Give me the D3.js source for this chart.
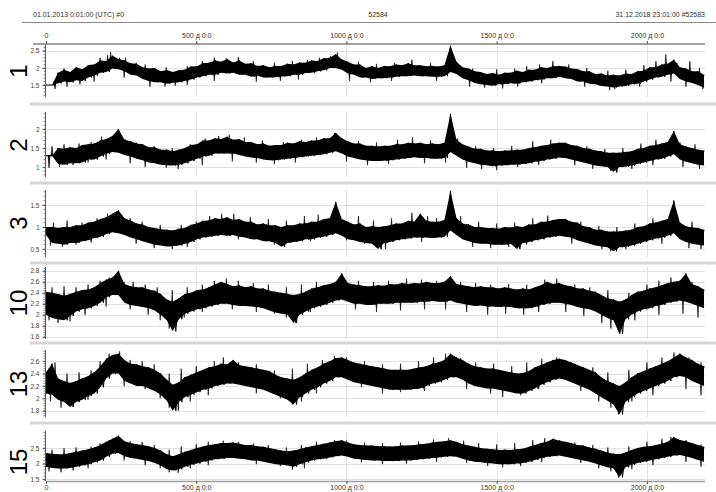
<!DOCTYPE html>
<html><head><meta charset="utf-8">
<script src="https://cdn.jsdelivr.net/npm/d3@7"></script>
<style>body{margin:0;background:#fff}svg{display:block}text{font-family:"Liberation Sans",Arial,sans-serif}</style>
</head><body><svg id="c" width="716" height="492"></svg>
<script>
// ---------- DATA ----------
const headerLeft = "01.01.2013 0:01:00 (UTC)  #0";
const headerMid = "52584";
const headerRight = "31.12.2018 23:01:00  #52583";
const totalDays = 2190;
const xTickValues = [0, 500, 1000, 1500, 2000];
const xTickLabels = ["0", "500 д 0:0", "1000 д 0:0", "1500 д 0:0", "2000 д 0:0"];
const panelNames = ["1", "2", "3", "10", "13", "15"];

const yTicks1 = [1.5, 2, 2.5];
const yTicks2 = [1, 1.5, 2];
const yTicks3 = [0.5, 1, 1.5];
const yTicks10 = [1.6, 1.8, 2, 2.2, 2.4, 2.6, 2.8];
const yTicks13 = [1.8, 2, 2.2, 2.4, 2.6];
const yTicks15 = [1.5, 2, 2.5];

// per 20-day bin: upper / lower edge of the dense band
const p1Max = [1.5,1.5,1.86,1.95,1.88,2.02,1.96,2.08,2.1,2.22,
 2.2,2.36,2.26,2.22,2.14,2.12,2.02,1.98,2.0,1.9,
 1.94,1.88,1.93,1.95,2.04,2.05,2.14,2.15,2.22,2.18,
 2.26,2.16,2.22,2.12,2.14,2.06,2.08,2.02,2.06,2.06,
 2.12,2.1,2.16,2.15,2.22,2.2,2.28,2.3,2.4,2.25,
 2.18,2.1,2.1,2.0,2.05,2.0,2.06,2.05,2.1,2.08,
 2.14,2.08,2.08,2.05,2.06,2.04,2.08,2.65,2.18,2.02,
 1.98,1.9,1.88,1.82,1.85,1.8,1.86,1.86,1.92,1.88,
 1.95,1.95,2.02,2.0,2.05,2.06,2.04,1.98,1.97,1.9,
 1.9,1.82,1.84,1.78,1.8,1.78,1.84,1.82,1.9,1.92,
 2.02,2.02,2.1,2.12,2.24,2.02,1.98,1.9,1.9,1.8];
const p1Min = [1.5,1.5,1.55,1.6,1.58,1.64,1.62,1.72,1.78,1.86,
 1.88,1.98,1.96,1.9,1.8,1.78,1.68,1.62,1.58,1.58,
 1.54,1.57,1.58,1.62,1.66,1.72,1.76,1.8,1.8,1.86,
 1.84,1.86,1.8,1.8,1.74,1.78,1.72,1.72,1.73,1.75,
 1.76,1.8,1.8,1.85,1.86,1.9,1.93,2.0,2.0,1.95,
 1.84,1.8,1.72,1.72,1.68,1.7,1.7,1.72,1.74,1.76,
 1.76,1.78,1.76,1.76,1.74,1.74,1.76,1.88,1.82,1.7,
 1.64,1.56,1.52,1.5,1.48,1.52,1.53,1.55,1.54,1.58,
 1.6,1.64,1.66,1.7,1.7,1.74,1.7,1.68,1.6,1.6,
 1.54,1.52,1.47,1.46,1.43,1.46,1.47,1.52,1.54,1.6,
 1.66,1.72,1.74,1.8,1.84,1.68,1.6,1.56,1.5,1.42];
// isolated spikes [day, value]
const p1Spikes = [[60,1.98],[105,2.0],[150,2.1],[180,2.3],[205,2.38],[215,2.47],[245,2.3],[265,2.3],[300,2.15],[330,2.1],
 [400,2.02],[470,2.05],[520,2.2],[560,2.3],[600,2.28],[640,2.32],[690,2.2],[760,2.15],[820,2.2],[870,2.24],[910,2.3],
 [947,2.35],[970,2.45],[1040,2.18],[1100,2.12],[1160,2.15],[1218,2.24],[1280,2.15],[1360,2.2],[1420,1.98],[1500,1.96],
 [1560,1.98],[1600,2.05],[1643,2.1],[1687,2.2],[1740,2.1],[1800,2.0],[1870,1.92],[1930,1.95],[1990,2.08],[2030,2.2],
 [2063,2.4],[2100,2.15],[2143,2.2],[2175,2.0],
 [30,1.38],[70,1.45],[113,1.52],[160,1.6],[260,1.72],[346,1.45],[396,1.45],[430,1.48],[470,1.5],[560,1.62],[700,1.6],
 [780,1.62],[840,1.66],[1010,1.62],[1080,1.58],[1150,1.62],[1300,1.62],[1410,1.45],[1460,1.42],[1520,1.4],[1570,1.45],
 [1650,1.55],[1793,1.45],[1876,1.35],[1893,1.38],[1976,1.45],[2080,1.6],[2130,1.45],[2186,1.38]];

const p2Max = [1.3,1.3,1.5,1.48,1.52,1.5,1.58,1.6,1.62,1.7,
 1.74,1.82,2.0,1.72,1.68,1.62,1.6,1.52,1.52,1.46,
 1.46,1.42,1.46,1.5,1.58,1.6,1.7,1.7,1.76,1.74,
 1.8,1.72,1.74,1.66,1.66,1.6,1.62,1.56,1.58,1.58,
 1.64,1.62,1.68,1.66,1.7,1.7,1.76,1.76,1.9,1.76,
 1.68,1.62,1.62,1.56,1.56,1.54,1.56,1.56,1.6,1.6,
 1.64,1.62,1.64,1.6,1.62,1.6,1.64,2.4,1.72,1.6,
 1.54,1.48,1.48,1.44,1.44,1.42,1.44,1.44,1.46,1.46,
 1.5,1.52,1.56,1.58,1.62,1.64,1.64,1.58,1.56,1.5,
 1.48,1.44,1.42,1.38,1.38,1.38,1.4,1.42,1.48,1.5,
 1.56,1.58,1.62,1.66,1.95,1.6,1.54,1.5,1.46,1.44];
const p2Min = [1.3,1.3,1.08,1.06,1.1,1.1,1.12,1.2,1.2,1.28,
 1.35,1.4,1.38,1.32,1.28,1.22,1.18,1.12,1.1,1.06,
 1.05,1.04,1.06,1.1,1.16,1.22,1.28,1.3,1.36,1.36,
 1.36,1.36,1.32,1.28,1.25,1.24,1.2,1.18,1.18,1.2,
 1.22,1.24,1.26,1.28,1.3,1.32,1.34,1.38,1.42,1.36,
 1.28,1.24,1.2,1.18,1.16,1.16,1.17,1.18,1.2,1.22,
 1.24,1.26,1.24,1.24,1.22,1.22,1.24,1.4,1.3,1.2,
 1.14,1.1,1.06,1.05,1.02,1.04,1.05,1.06,1.07,1.08,
 1.1,1.14,1.16,1.2,1.22,1.25,1.24,1.2,1.16,1.12,
 1.08,1.04,1.02,1.0,0.88,1.0,1.01,1.04,1.08,1.12,
 1.16,1.2,1.22,1.28,1.34,1.2,1.14,1.1,1.06,1.04];
const p2Spikes = [[20,1.55],[60,1.6],[110,1.62],[150,1.66],[185,1.8],[230,1.75],[265,1.72],[300,1.65],[360,1.55],[420,1.5],
 [480,1.6],[530,1.75],[575,1.82],[610,1.85],[660,1.78],[720,1.7],[790,1.66],[850,1.72],[900,1.78],[960,1.9],[1040,1.68],
 [1100,1.65],[1170,1.72],[1220,1.78],[1280,1.7],[1370,1.75],[1430,1.55],[1490,1.5],[1550,1.56],[1620,1.68],[1680,1.72],
 [1730,1.6],[1800,1.55],[1860,1.48],[1920,1.5],[1980,1.62],[2030,1.72],[2110,1.65],[2160,1.6],
 [10,0.98],[45,1.0],[90,1.05],[140,1.12],[200,1.2],[280,1.1],[330,1.0],[400,0.98],[440,0.95],[520,1.05],[620,1.15],
 [700,1.12],[760,1.08],[830,1.12],[1000,1.15],[1070,1.05],[1140,1.08],[1260,1.1],[1330,1.12],[1400,0.98],[1450,0.95],
 [1500,0.92],[1570,1.0],[1640,1.05],[1760,1.05],[1820,0.95],[1880,0.9],[1900,0.85],[1950,0.95],[2020,1.05],[2120,1.0],[2175,0.95]];

const p3Max = [1.0,1.0,0.98,1.0,1.0,1.04,1.04,1.1,1.12,1.18,
 1.22,1.3,1.38,1.2,1.15,1.08,1.06,1.0,0.98,0.95,
 0.94,0.92,0.96,0.98,1.05,1.08,1.14,1.15,1.2,1.18,
 1.22,1.16,1.18,1.12,1.12,1.06,1.08,1.04,1.04,1.0,
 1.04,1.04,1.08,1.08,1.12,1.12,1.18,1.2,1.57,1.18,
 1.12,1.06,1.08,1.0,1.02,1.0,1.02,1.04,1.08,1.08,
 1.14,1.12,1.3,1.14,1.12,1.12,1.16,1.82,1.2,1.08,
 1.06,1.0,1.0,0.98,0.98,0.96,1.0,0.99,1.02,1.0,
 1.06,1.06,1.12,1.12,1.16,1.18,1.18,1.12,1.1,1.02,
 1.0,0.94,0.94,0.9,0.9,0.9,0.92,0.94,1.0,1.02,
 1.08,1.1,1.14,1.18,1.6,1.1,1.02,0.99,0.98,0.94];
const p3Min = [0.82,0.64,0.62,0.6,0.64,0.64,0.68,0.7,0.75,0.78,
 0.84,0.88,0.86,0.82,0.76,0.72,0.68,0.64,0.6,0.58,
 0.56,0.57,0.58,0.62,0.66,0.72,0.76,0.78,0.8,0.82,
 0.8,0.82,0.78,0.76,0.72,0.72,0.68,0.68,0.64,0.55,
 0.64,0.66,0.68,0.72,0.72,0.76,0.78,0.82,0.86,0.8,
 0.72,0.7,0.66,0.64,0.62,0.5,0.64,0.66,0.7,0.72,
 0.74,0.76,0.76,0.76,0.75,0.76,0.78,0.92,0.82,0.72,
 0.68,0.64,0.62,0.62,0.6,0.6,0.6,0.62,0.5,0.64,
 0.66,0.7,0.72,0.76,0.78,0.8,0.78,0.76,0.7,0.66,
 0.62,0.58,0.56,0.54,0.45,0.54,0.55,0.58,0.62,0.66,
 0.7,0.74,0.76,0.8,0.86,0.72,0.66,0.62,0.6,0.58];
const p3Spikes = [[25,1.1],[70,1.15],[120,1.1],[170,1.2],[205,1.3],[240,1.28],[280,1.2],[320,1.12],[380,1.05],[450,1.05],
 [500,1.12],[545,1.25],[585,1.3],[625,1.3],[680,1.22],[740,1.18],[800,1.15],[860,1.25],[906,1.28],[1040,1.25],[1090,1.15],
 [1150,1.2],[1218,1.32],[1270,1.25],[1300,1.2],[1380,1.25],[1440,1.12],[1500,1.08],[1560,1.1],[1620,1.2],[1670,1.26],
 [1720,1.18],[1780,1.12],[1840,1.02],[1900,1.0],[1960,1.08],[2020,1.2],[2100,1.22],[2150,1.12],
 [15,0.58],[55,0.55],[100,0.6],[150,0.65],[300,0.62],[360,0.52],[420,0.5],[470,0.55],[640,0.72],[760,0.6],[880,0.68],
 [1000,0.7],[1060,0.62],[1130,0.5],[1250,0.66],[1420,0.55],[1480,0.52],[1540,0.55],[1600,0.6],[1750,0.62],[1850,0.5],
 [1880,0.45],[1930,0.5],[2050,0.62],[2140,0.52],[2180,0.5]];

const p10Max = [2.42,2.4,2.38,2.35,2.38,2.42,2.45,2.46,2.5,2.58,
 2.64,2.68,2.8,2.56,2.52,2.5,2.5,2.46,2.44,2.38,
 2.28,2.24,2.3,2.38,2.4,2.45,2.46,2.5,2.55,2.6,
 2.56,2.52,2.54,2.5,2.52,2.48,2.48,2.44,2.42,2.4,
 2.38,2.36,2.38,2.42,2.48,2.5,2.54,2.56,2.6,2.75,
 2.58,2.55,2.54,2.52,2.52,2.54,2.53,2.56,2.55,2.58,
 2.56,2.58,2.57,2.6,2.58,2.58,2.6,2.7,2.56,2.54,
 2.52,2.5,2.52,2.5,2.5,2.48,2.5,2.48,2.46,2.48,
 2.46,2.5,2.54,2.6,2.56,2.58,2.54,2.52,2.48,2.48,
 2.44,2.42,2.36,2.3,2.28,2.24,2.28,2.36,2.42,2.44,
 2.48,2.5,2.54,2.58,2.6,2.62,2.75,2.56,2.52,2.46];
const p10Min = [2.0,1.94,1.92,1.9,1.98,2.06,2.1,2.12,2.16,2.22,
 2.32,2.36,2.36,2.22,2.18,2.16,2.14,2.12,2.08,2.0,
 1.9,1.7,1.92,2.02,2.06,2.1,2.12,2.15,2.18,2.2,
 2.2,2.18,2.16,2.16,2.15,2.14,2.12,2.08,2.04,2.02,
 2.0,1.85,2.0,2.06,2.12,2.15,2.18,2.22,2.26,2.28,
 2.24,2.2,2.2,2.18,2.18,2.2,2.2,2.2,2.22,2.22,
 2.22,2.22,2.24,2.24,2.25,2.24,2.24,2.26,2.22,2.2,
 2.18,2.16,2.17,2.15,2.15,2.14,2.15,2.14,2.12,2.12,
 2.12,2.14,2.18,2.2,2.22,2.22,2.2,2.18,2.14,2.12,
 2.1,2.06,2.0,1.94,1.9,1.65,1.92,2.0,2.06,2.1,
 2.12,2.16,2.18,2.22,2.24,2.26,2.24,2.2,2.16,2.12];
const p10Spikes = [[20,2.5],[60,2.52],[100,2.5],[140,2.55],[180,2.62],[210,2.68],[260,2.6],[290,2.6],[330,2.55],[370,2.5],
 [420,2.45],[470,2.5],[520,2.55],[560,2.62],[600,2.66],[640,2.62],[690,2.58],[740,2.55],[800,2.5],[850,2.55],[900,2.6],
 [990,2.65],[1040,2.62],[1090,2.6],[1140,2.62],[1200,2.66],[1250,2.64],[1300,2.62],[1380,2.6],[1430,2.58],[1480,2.55],
 [1540,2.56],[1600,2.55],[1660,2.64],[1700,2.66],[1760,2.55],[1810,2.5],[1870,2.45],[1940,2.4],[2000,2.55],[2040,2.62],
 [2080,2.68],[2150,2.6],
 [10,1.9],[40,1.85],[80,1.88],[130,2.0],[200,2.15],[280,2.1],[340,2.0],[380,1.9],[410,1.75],[460,1.95],[520,2.05],
 [620,2.1],[700,2.05],[760,2.02],[800,1.95],[830,1.85],[880,2.05],[1030,2.1],[1100,2.05],[1180,2.08],[1260,2.1],
 [1330,2.1],[1400,2.05],[1470,2.0],[1530,2.02],[1590,2.0],[1640,2.05],[1730,2.05],[1790,1.98],[1850,1.85],[1880,1.75],
 [1910,1.65],[1960,1.9],[2040,2.0],[2120,2.02],[2170,1.95]];

const p13Max = [2.42,2.56,2.32,2.28,2.25,2.28,2.32,2.36,2.42,2.52,
 2.64,2.7,2.72,2.62,2.56,2.55,2.52,2.5,2.46,2.4,
 2.3,2.22,2.26,2.34,2.38,2.42,2.46,2.5,2.52,2.56,
 2.55,2.62,2.54,2.52,2.5,2.48,2.46,2.44,2.38,2.34,
 2.32,2.3,2.34,2.4,2.46,2.5,2.56,2.6,2.65,2.66,
 2.62,2.58,2.56,2.54,2.52,2.5,2.48,2.46,2.46,2.46,
 2.46,2.48,2.5,2.52,2.56,2.58,2.62,2.72,2.66,2.62,
 2.56,2.52,2.5,2.48,2.48,2.46,2.44,2.42,2.4,2.41,
 2.44,2.5,2.54,2.58,2.62,2.64,2.62,2.58,2.54,2.5,
 2.46,2.42,2.34,2.28,2.24,2.2,2.26,2.34,2.4,2.44,
 2.48,2.52,2.56,2.6,2.66,2.72,2.66,2.62,2.56,2.52];
const p13Min = [2.08,2.06,1.98,1.94,1.86,1.94,1.98,2.04,2.08,2.18,
 2.32,2.4,2.4,2.28,2.24,2.2,2.2,2.16,2.12,2.06,
 1.96,1.8,1.94,2.02,2.06,2.1,2.14,2.16,2.2,2.22,
 2.24,2.24,2.22,2.2,2.18,2.16,2.14,2.1,2.06,2.02,
 1.98,1.9,2.02,2.08,2.14,2.18,2.24,2.28,2.34,2.34,
 2.3,2.26,2.24,2.22,2.2,2.18,2.16,2.14,2.14,2.14,
 2.14,2.15,2.16,2.2,2.24,2.26,2.3,2.34,2.34,2.3,
 2.24,2.2,2.18,2.16,2.16,2.14,2.12,2.1,2.08,2.08,
 2.12,2.16,2.22,2.26,2.3,2.32,2.3,2.26,2.22,2.18,
 2.14,2.08,2.02,1.96,1.9,1.74,1.94,2.02,2.08,2.12,
 2.16,2.2,2.24,2.28,2.34,2.36,2.34,2.28,2.24,2.2];
const p13Spikes = [[30,2.58],[70,2.4],[110,2.42],[150,2.45],[180,2.6],[210,2.72],[245,2.76],[280,2.62],[320,2.6],[360,2.55],
 [410,2.4],[450,2.48],[500,2.52],[560,2.6],[590,2.66],[640,2.58],[700,2.55],[760,2.45],[820,2.48],[870,2.56],[920,2.62],
 [960,2.68],[1000,2.66],[1060,2.6],[1120,2.55],[1180,2.56],[1240,2.6],[1290,2.66],[1330,2.72],[1380,2.65],[1430,2.58],
 [1490,2.56],[1550,2.52],[1600,2.58],[1650,2.64],[1700,2.66],[1760,2.56],[1820,2.5],[1870,2.42],[1940,2.46],[2000,2.58],
 [2050,2.66],[2090,2.74],[2140,2.66],[2180,2.58],
 [15,1.95],[50,1.85],[90,1.88],[140,1.98],[260,2.2],[330,2.15],[380,2.0],[410,1.85],[440,1.8],[480,1.95],[540,2.05],
 [700,2.08],[780,2.0],[820,1.9],[850,1.95],[900,2.08],[1050,2.18],[1120,2.08],[1180,2.1],[1260,2.12],[1400,2.15],
 [1480,2.08],[1520,2.02],[1580,2.05],[1640,2.15],[1780,2.12],[1840,1.95],[1880,1.85],[1905,1.74],[1950,1.95],[2020,2.05],
 [2130,2.15],[2180,2.05]];

const p15Max = [2.34,2.32,2.3,2.3,2.34,2.38,2.42,2.46,2.52,2.6,
 2.7,2.8,2.9,2.72,2.66,2.62,2.6,2.56,2.5,2.42,
 2.3,2.24,2.3,2.38,2.44,2.5,2.55,2.6,2.62,2.66,
 2.66,2.68,2.64,2.6,2.6,2.56,2.54,2.5,2.46,2.42,
 2.4,2.42,2.46,2.52,2.56,2.6,2.64,2.68,2.72,2.75,
 2.68,2.62,2.6,2.58,2.58,2.56,2.56,2.55,2.56,2.58,
 2.58,2.6,2.62,2.64,2.68,2.7,2.72,2.75,2.7,2.62,
 2.58,2.54,2.5,2.48,2.46,2.44,2.45,2.44,2.46,2.48,
 2.54,2.6,2.66,2.7,2.8,2.74,2.7,2.66,2.6,2.58,
 2.52,2.48,2.42,2.36,2.32,2.3,2.36,2.44,2.5,2.54,
 2.56,2.6,2.64,2.7,2.85,2.76,2.72,2.66,2.6,2.54];
const p15Min = [1.9,1.86,1.84,1.84,1.86,1.9,1.94,1.98,2.04,2.1,
 2.22,2.32,2.34,2.24,2.18,2.16,2.12,2.08,2.02,1.94,
 1.82,1.78,1.82,1.9,1.96,2.0,2.06,2.1,2.14,2.16,
 2.18,2.18,2.16,2.14,2.1,2.1,2.06,2.02,1.98,1.96,
 1.94,1.9,1.98,2.04,2.1,2.14,2.16,2.2,2.24,2.26,
 2.22,2.16,2.14,2.12,2.1,2.1,2.08,2.08,2.08,2.1,
 2.1,2.12,2.14,2.16,2.18,2.2,2.22,2.24,2.22,2.16,
 2.1,2.06,2.04,2.02,2.0,1.98,1.98,1.98,2.0,2.02,
 2.06,2.12,2.18,2.22,2.24,2.26,2.22,2.18,2.14,2.1,
 2.06,2.0,1.94,1.88,1.84,1.56,1.88,1.96,2.02,2.06,
 2.1,2.14,2.18,2.22,2.26,2.28,2.24,2.18,2.12,2.06];
const p15Spikes = [[20,2.45],[60,2.5],[100,2.52],[150,2.55],[180,2.65],[210,2.75],[245,2.85],[280,2.72],[320,2.7],[360,2.6],
 [410,2.45],[450,2.55],[500,2.62],[540,2.7],[590,2.74],[640,2.7],[690,2.65],[740,2.6],[800,2.52],[850,2.6],[900,2.7],
 [960,2.76],[1000,2.74],[1060,2.68],[1120,2.66],[1180,2.68],[1240,2.72],[1290,2.78],[1340,2.82],[1390,2.74],[1440,2.66],
 [1500,2.62],[1560,2.66],[1620,2.76],[1660,2.82],[1710,2.76],[1760,2.68],[1820,2.6],[1870,2.52],[1940,2.55],[2000,2.7],
 [2050,2.8],[2080,2.86],[2130,2.76],[2180,2.62],
 [10,1.75],[50,1.72],[90,1.78],[140,1.85],[260,2.1],[330,1.95],[380,1.85],[410,1.72],[440,1.7],[480,1.85],[540,1.95],
 [700,1.98],[780,1.92],[820,1.8],[860,1.85],[1050,2.05],[1120,1.98],[1200,2.0],[1300,2.05],[1400,2.02],[1470,1.92],
 [1520,1.88],[1580,1.92],[1650,2.05],[1780,2.02],[1840,1.85],[1880,1.75],[1905,1.55],[1950,1.82],[2020,1.95],[2130,2.05],
 [2180,1.9]];

// ---------- LAYOUT ----------
const panels = [
  {name: panelNames[0], max: p1Max, min: p1Min, spikes: p1Spikes, ticks: yTicks1, top: 44, bottom: 97, domain: [1.15, 2.7], labelY: 71},
  {name: panelNames[1], max: p2Max, min: p2Min, spikes: p2Spikes, ticks: yTicks2, top: 112, bottom: 177, domain: [0.74, 2.45], labelY: 145},
  {name: panelNames[2], max: p3Max, min: p3Min, spikes: p3Spikes, ticks: yTicks3, top: 190, bottom: 257, domain: [0.32, 1.84], labelY: 223},
  {name: panelNames[3], max: p10Max, min: p10Min, spikes: p10Spikes, ticks: yTicks10, top: 267, bottom: 339, domain: [1.56, 2.87], labelY: 303},
  {name: panelNames[4], max: p13Max, min: p13Min, spikes: p13Spikes, ticks: yTicks13, top: 350, bottom: 417, domain: [1.7, 2.78], labelY: 384},
  {name: panelNames[5], max: p15Max, min: p15Min, spikes: p15Spikes, ticks: yTicks15, top: 431, bottom: 481, domain: [1.44, 3.05], labelY: 462}
];
const separators = [104, 183, 263, 343, 423];

const svg = d3.select("#c");
const x = d3.scaleLinear().domain([0, totalDays]).range([46, 704]);

// header
svg.append("text").attr("x", 33).attr("y", 17).attr("font-size", 7).attr("fill", "#333").text(headerLeft);
svg.append("text").attr("x", 378).attr("y", 17).attr("font-size", 7).attr("fill", "#333").attr("text-anchor", "middle").text(headerMid);
svg.append("text").attr("x", 705).attr("y", 17).attr("font-size", 7).attr("fill", "#333").attr("text-anchor", "end").text(headerRight);
svg.append("line").attr("x1", 22).attr("x2", 716).attr("y1", 22.5).attr("y2", 22.5).attr("stroke", "#8c8c8c").attr("stroke-width", 1.2);

// separators
separators.forEach(s => svg.append("line").attr("x1", 30).attr("x2", 716).attr("y1", s).attr("y2", s)
  .attr("stroke", "#d6d6d6").attr("stroke-width", 3));

panels.forEach((p, k) => {
  const y = d3.scaleLinear().domain(p.domain).range([p.bottom, p.top]);
  const g = svg.append("g");
  // grid
  g.selectAll(".hg").data(p.ticks).join("line")
    .attr("x1", 46).attr("x2", 705).attr("y1", d => Math.round(y(d)) + 0.5).attr("y2", d => Math.round(y(d)) + 0.5)
    .attr("stroke", "#e2e2e2").attr("stroke-width", 1);
  g.selectAll(".vg").data(xTickValues.slice(1)).join("line")
    .attr("x1", d => Math.round(x(d)) + 0.5).attr("x2", d => Math.round(x(d)) + 0.5)
    .attr("y1", p.top).attr("y2", p.bottom)
    .attr("stroke", "#e2e2e2").attr("stroke-width", 1);

  // data
  const n = Math.min(p.max.length, p.min.length);
  const step = totalDays / (n - 1);
  const rows = d3.range(n).map(i => ({t: i * step, hi: p.max[i], lo: p.min[i]}));
  const clipId = "clip" + k;
  svg.append("clipPath").attr("id", clipId).append("rect")
    .attr("x", 46).attr("y", p.top).attr("width", 660).attr("height", p.bottom - p.top);
  const dg = g.append("g").attr("clip-path", `url(#${clipId})`);
  const area = d3.area().x(d => x(d.t)).y0(d => y(d.lo)).y1(d => y(d.hi));
  dg.append("path").attr("d", area(rows)).attr("fill", "#000");
  const zig = [];
  rows.forEach((d, i) => {
    zig.push([x(d.t), y(d.hi)]);
    if (i < n - 1) zig.push([x(d.t + step / 2), y(d.lo)]);
  });
  dg.append("path").attr("d", d3.line()(zig)).attr("fill", "none").attr("stroke", "#000").attr("stroke-width", 1);

  // spikes: thin strokes from the band centre to the spike value
  const centreAt = t => {
    const f = Math.max(0, Math.min(n - 1, t / step));
    const i0 = Math.floor(f), i1 = Math.min(n - 1, i0 + 1), w = f - i0;
    const c0 = (rows[i0].hi + rows[i0].lo) / 2, c1 = (rows[i1].hi + rows[i1].lo) / 2;
    return c0 + (c1 - c0) * w;
  };
  dg.selectAll(".spk").data(p.spikes).join("path")
    .attr("d", d => {
      const xs = x(d[0]), yc = y(centreAt(d[0])), yv = y(d[1]);
      return `M${xs - 1},${yc}L${xs},${yv}L${xs + 1},${yc}Z`;
    })
    .attr("fill", "#000").attr("stroke", "#000").attr("stroke-width", 0.6);

  // y axis
  const axis = d3.axisLeft(y).tickValues(p.ticks).tickSize(3).tickSizeOuter(0).tickFormat(d3.format("~g"));
  const ag = g.append("g").attr("transform", "translate(45.5,0)").call(axis);
  ag.select(".domain").attr("stroke", "#555");
  ag.selectAll(".tick line").attr("stroke", "#555");
  ag.selectAll("text").attr("font-size", 6.5).attr("fill", "#444").attr("font-family", "Liberation Sans, Arial, sans-serif");
  const minorStep = (p.ticks[1] - p.ticks[0]) / 5;
  const minor = d3.range(Math.ceil(p.domain[0] / minorStep) * minorStep, p.domain[1], minorStep);
  g.selectAll(".mt").data(minor).join("line")
    .attr("x1", 43.5).attr("x2", 45.5).attr("y1", d => y(d)).attr("y2", d => y(d))
    .attr("stroke", "#666").attr("stroke-width", 0.8);
  ag.select(".domain").attr("d", `M0,${p.top}V${p.bottom}`);

  // panel label
  svg.append("text").attr("transform", `translate(18,${p.labelY}) rotate(-90)`)
    .attr("text-anchor", "middle").attr("dominant-baseline", "central")
    .attr("font-size", 24).attr("fill", "#000").text(p.name);
});

// top axis
svg.append("line").attr("x1", 33).attr("x2", 705).attr("y1", 44).attr("y2", 44).attr("stroke", "#a0a0a0").attr("stroke-width", 2);
const topAx = d3.axisTop(x).tickValues(xTickValues).tickFormat((d, i) => xTickLabels[i]).tickSize(3).tickSizeOuter(0);
const tg = svg.append("g").attr("transform", "translate(0,44)").call(topAx);
tg.select(".domain").remove();
tg.selectAll(".tick line").attr("stroke", "#555");
tg.selectAll("text").attr("font-size", 7).attr("fill", "#333").attr("font-family", "Liberation Sans, Arial, sans-serif");

// bottom axis
svg.append("line").attr("x1", 46).attr("x2", 705).attr("y1", 481.5).attr("y2", 481.5).attr("stroke", "#a0a0a0").attr("stroke-width", 1.5);
const botAx = d3.axisBottom(x).tickValues(xTickValues).tickFormat((d, i) => xTickLabels[i]).tickSize(3).tickSizeOuter(0).tickPadding(1);
const bg = svg.append("g").attr("transform", "translate(0,481)").call(botAx);
bg.select(".domain").remove();
bg.selectAll(".tick line").attr("stroke", "#555");
bg.selectAll("text").attr("font-size", 7).attr("fill", "#333").attr("font-family", "Liberation Sans, Arial, sans-serif");
</script></body></html>
